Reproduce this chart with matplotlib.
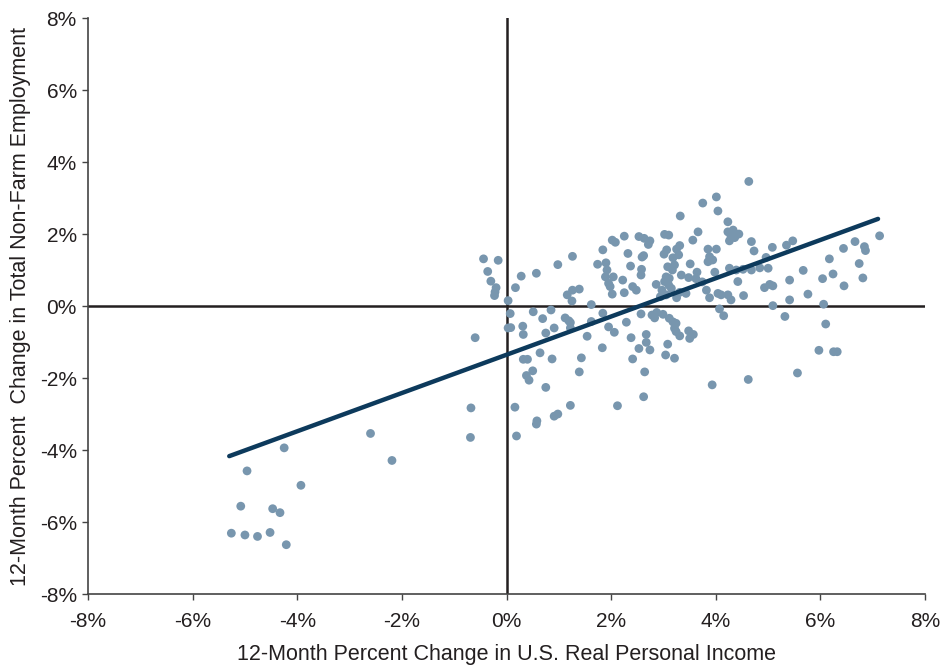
# -*- coding: UTF-8 -*-
import numpy as np
import matplotlib
matplotlib.use('Agg')
import matplotlib.pyplot as plt
from matplotlib.ticker import FuncFormatter

plt.rcParams['font.family'] = ['Liberation Sans', 'DejaVu Sans']

# 12-month % change in real personal income (x) vs non-farm employment (y)
income = [
    -0.44, -0.16, -0.36, -0.30, -0.20, -0.22, -0.23, -0.60, -0.68, -0.69,
    -2.60, -2.19, -4.25, -4.96, -3.93, -5.08, -4.47, -4.33, -5.26, -5.00,
    -4.76, -4.52, -4.21,
    0.03, 0.17, 0.28, 0.57, 0.98, 1.26, 1.16, 1.26, 1.39, 1.25, 1.62,
    0.07, 0.03, 0.08, 0.51, 0.85, 0.69, 1.12, 1.19, 1.22, 1.22, 0.91,
    0.75, 0.31, 0.32, 1.62, 1.54, 0.64, 0.87, 0.32, 0.40, 1.43, 0.50,
    0.38, 0.43, 1.39, 0.75, 1.22, 0.98, 0.91, 0.58, 0.57, 0.16, 0.19,
    1.84, 2.02, 2.08, 2.25, 2.53, 2.63, 2.74, 2.71, 3.02, 3.10, 3.66,
    3.56, 3.31, 3.25, 3.06, 3.01, 3.18, 3.29, 2.62, 2.59, 2.32, 1.90,
    1.74, 2.37, 2.58, 2.57, 1.92, 1.89, 2.04, 2.22, 1.95, 1.98, 2.02,
    2.25, 2.41, 2.48, 2.86, 3.08, 3.21, 3.17, 3.11, 3.05, 3.02, 3.10,
    3.15, 2.97, 2.94, 3.05, 3.25, 3.34, 3.51, 3.48, 3.64, 3.43, 3.31,
    3.32, 3.62, 3.74,
    1.84, 1.95, 2.06, 2.29, 2.57, 2.78, 2.87, 2.83, 2.99, 3.11, 3.18,
    3.24, 3.21, 3.24, 3.31, 3.48, 3.57, 3.50, 2.38, 2.67, 2.67, 2.53,
    2.74, 1.83, 2.41, 3.08, 3.04, 3.21, 2.64, 2.62, 2.12, 3.93, 4.62,
    4.23, 4.23, 4.33, 4.44, 4.36, 4.26, 4.29, 4.68, 4.73, 5.08, 5.35,
    5.47, 3.85, 4.01, 3.88, 3.91, 3.85, 3.94, 4.96, 3.98, 4.26, 4.39,
    4.52, 4.68, 4.84, 5.00, 4.42, 3.82, 3.88, 4.04, 4.10, 4.23, 4.29,
    4.53, 4.93, 5.03, 5.09, 5.41, 5.09, 5.41, 4.63, 4.01, 3.75, 4.04,
    4.07, 4.15, 5.32, 5.56,
    5.67, 6.17, 6.44, 6.66, 6.84, 6.86, 7.13, 6.74, 6.24, 6.04, 6.81,
    6.45, 5.76, 6.06, 6.10, 5.97, 6.25, 6.32,
]
employment = [
    1.31, 1.27, 0.96, 0.69, 0.51, 0.39, 0.29, -0.88, -2.83, -3.65,
    -3.54, -4.29, -3.94, -4.58, -4.98, -5.56, -5.63, -5.74, -6.31, -6.36,
    -6.40, -6.29, -6.63,
    0.15, 0.51, 0.83, 0.91, 1.15, 1.38, 0.31, 0.44, 0.47, 0.14, 0.04,
    -0.21, -0.61, -0.60, -0.16, -0.11, -0.35, -0.33, -0.41, -0.46, -0.61, -0.61,
    -0.75, -0.56, -0.79, -0.43, -0.84, -1.30, -1.47, -1.48, -1.48, -1.44, -1.80,
    -1.93, -2.06, -1.83, -2.26, -2.76, -3.00, -3.06, -3.19, -3.28, -2.81, -3.61,
    1.56, 1.83, 1.77, 1.94, 1.93, 1.88, 1.81, 1.71, 1.99, 1.97, 2.06,
    1.83, 1.68, 1.58, 1.56, 1.44, 1.34, 1.42, 1.40, 1.36, 1.46, 1.20,
    1.16, 1.11, 1.02, 0.86, 1.00, 0.81, 0.81, 0.72, 0.63, 0.54, 0.33,
    0.37, 0.54, 0.44, 0.60, 1.09, 1.14, 1.00, 0.77, 0.81, 0.68, 0.58,
    0.49, 0.44, 0.26, 0.31, 0.23, 0.86, 1.17, 0.79, 0.94, 0.35, 0.38,
    2.50, 0.76, 0.67,
    -0.20, -0.58, -0.73, -0.45, -0.22, -0.25, -0.18, -0.33, -0.23, -0.34, -0.44,
    -0.48, -0.62, -0.71, -0.83, -0.69, -0.79, -0.90, -0.88, -0.79, -1.01, -1.18,
    -1.22, -1.16, -1.47, -1.06, -1.36, -1.45, -1.83, -2.52, -2.77, -2.19, -2.04,
    2.34, 2.06, 2.11, 2.00, 1.90, 1.81, 1.93, 1.79, 1.53, 1.63, 1.69,
    1.81, 1.58, 1.58, 1.37, 1.28, 1.23, 1.28, 1.35, 0.94, 1.05, 1.00,
    1.02, 1.00, 1.06, 1.05, 0.68, 0.44, 0.23, 0.35, 0.31, 0.31, 0.17,
    0.29, 0.51, 0.60, 0.56, 0.72, 0.01, 0.17, 3.46, 3.03, 2.86, 2.64,
    -0.08, -0.27, -0.29, -1.86,
    0.99, 1.31, 1.60, 1.79, 1.65, 1.54, 1.95, 1.18, 0.89, 0.76, 0.78,
    0.56, 0.33, 0.05, -0.50, -1.23, -1.27, -1.27,
]

# trend line end points
trend_x = [-5.3, 7.1]
trend_y = [-4.17, 2.42]

ticks = [-8, -6, -4, -2, 0, 2, 4, 6, 8]

fig = plt.figure(figsize=(9.44, 6.67), dpi=100)
ax = fig.add_axes([0.0932, 0.1094, 0.8868, 0.8636])

ax.axhline(0, color='#231f20', lw=1.8, zorder=1)
ax.axvline(0, color='#231f20', lw=1.8, zorder=1)
ax.scatter(income, employment, s=40, color='#7896ae', edgecolors='none', zorder=2)
ax.plot(trend_x, trend_y, color='#0d3a5c', lw=3.2, solid_capstyle='round', zorder=3)

ax.set_xlim(-8, 8)
ax.set_ylim(-8, 8)
ax.set_xticks(ticks)
ax.set_yticks(ticks)
pct = FuncFormatter(lambda v, p: '%d%%' % v)
ax.xaxis.set_major_formatter(pct)
ax.yaxis.set_major_formatter(pct)
ax.tick_params(labelsize=15, length=4, width=1, color='#444444', labelcolor='#231f20', pad=4)
ax.tick_params(axis='x', pad=9)

for s in ['top', 'right']:
    ax.spines[s].set_visible(False)
for s in ['left', 'bottom']:
    ax.spines[s].set_color('#444444')
    ax.spines[s].set_linewidth(1.2)

ax.set_xlabel('12-Month Percent Change in U.S. Real Personal Income', fontsize=15.5, color='#231f20', labelpad=9)
ax.set_ylabel('12-Month Percent  Change in Total Non-Farm Employment', fontsize=15.5, color='#231f20', labelpad=6)

plt.savefig('out.png', dpi=100)
